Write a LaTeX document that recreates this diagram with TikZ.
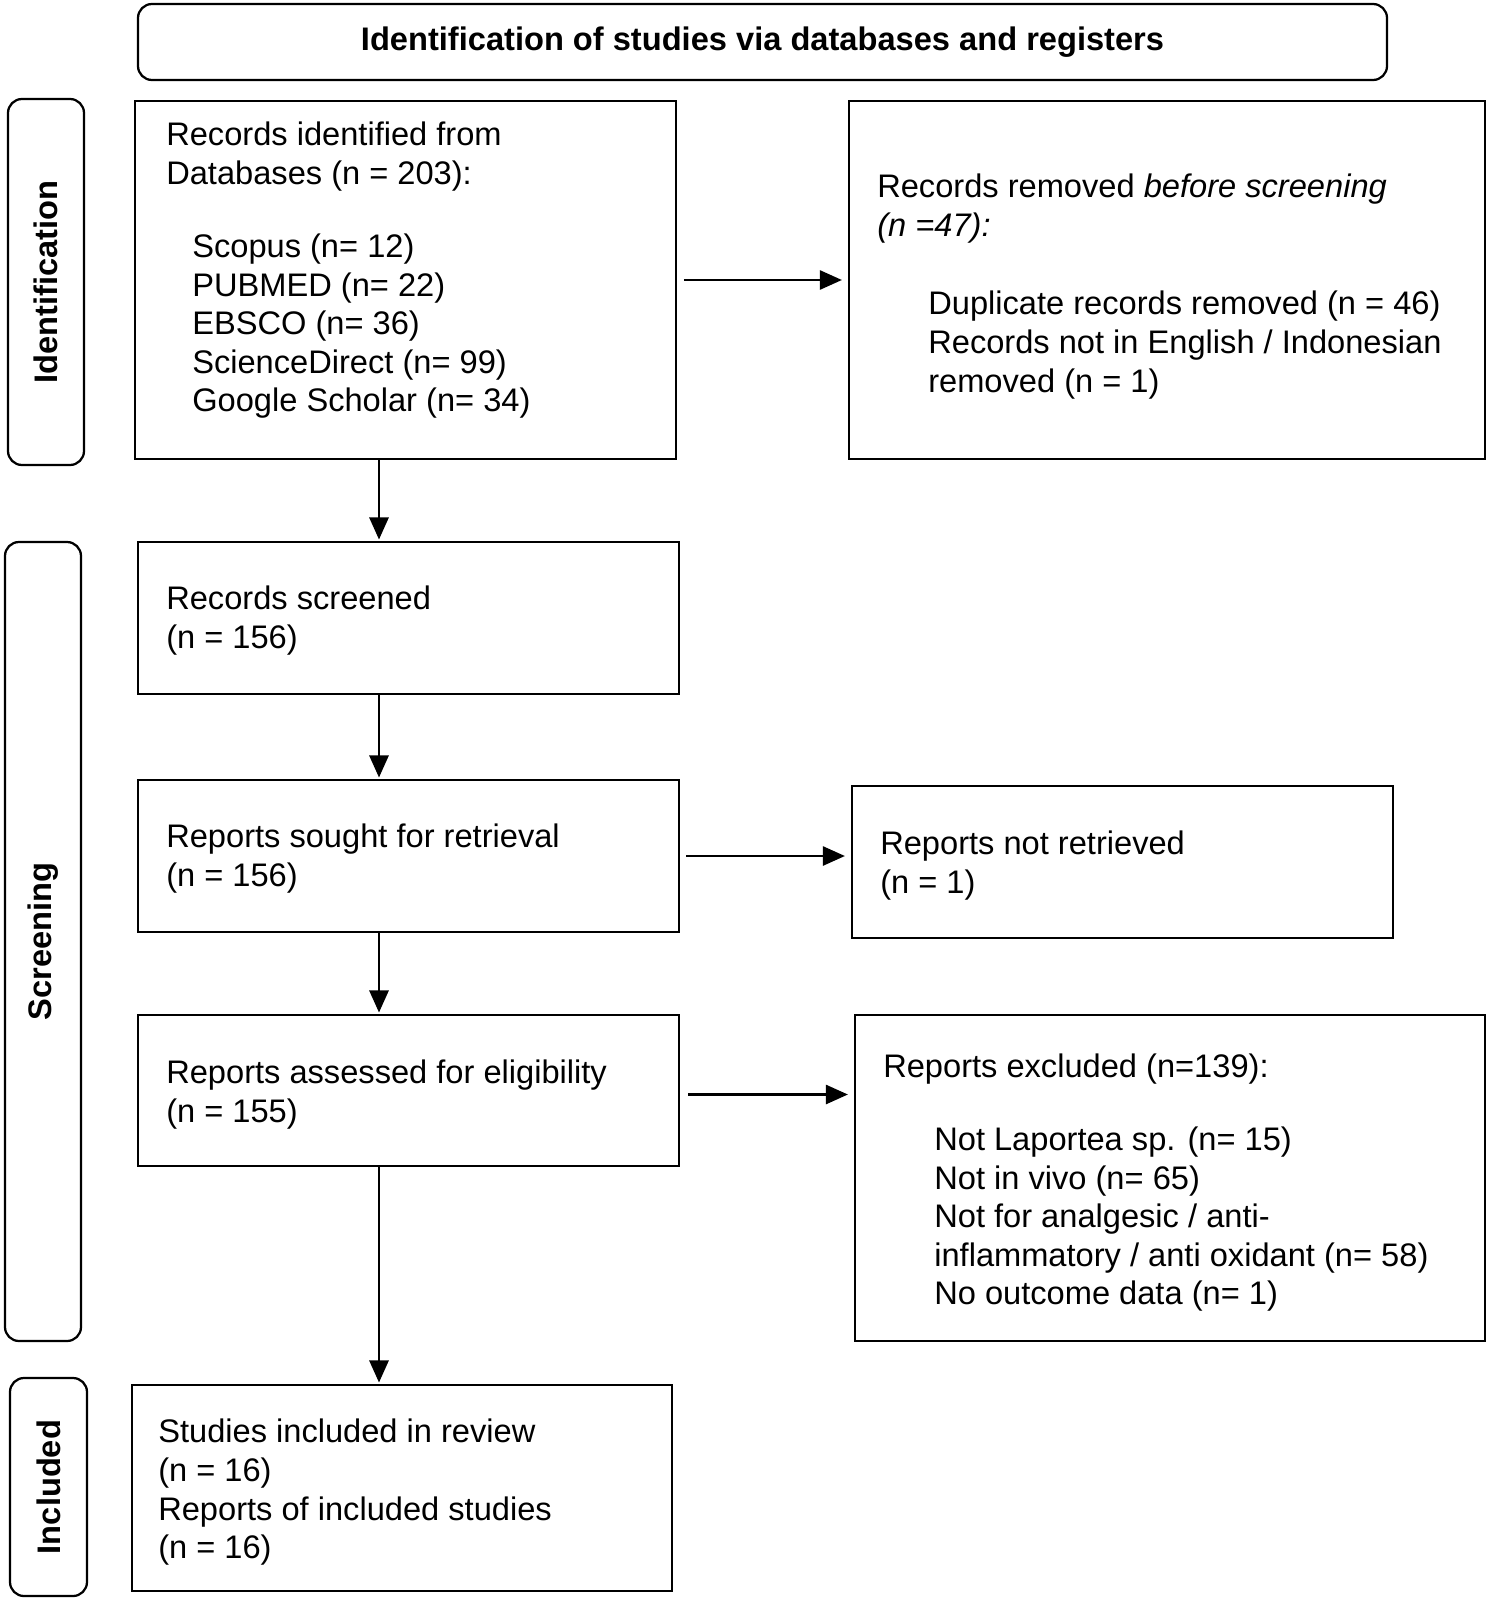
\documentclass[tikz,border=0pt]{standalone}
\usepackage{fontspec}
\setmainfont{Liberation Sans}
\usetikzlibrary{arrows.meta,positioning,fit,calc}
\newcommand{\prismafont}{\fontsize{23.2}{27.4}\selectfont}
\newcommand{\ind}{\hspace*{0.65cm}}
\newcommand{\indd}{\hspace*{1.275cm}}

\begin{document}
\begin{tikzpicture}[x=0.025cm,y=-0.025cm,font=\prismafont,
  box/.style={draw,line width=1.6pt,inner sep=0pt},
  stage/.style={box,rounded corners=0.35cm},
  txt/.style={anchor=north west,align=left,inner sep=0pt,font=\prismafont},
  lab/.style={rotate=90,inner sep=0pt,font=\prismafont\bfseries},
  ar/.style={-{Triangle[length=0.55cm,width=0.48cm]},line width=1.5pt},
]
\useasboundingbox (0,0) rectangle (1489,1602);

% header and stage columns
\node[stage,fit={(138,4) (1387,80)}] (banner) {};
\node[font=\prismafont\bfseries,inner sep=0pt] (bannertxt) at (banner.center)
  {Identification of studies via databases and registers};
\node[stage,fit={(8,99) (84,465)}] (sideid) {};
\node[stage,fit={(5,542) (81,1341)}] (sidescr) {};
\node[stage,fit={(10,1378) (87,1596)}] (sideinc) {};
\node[lab] (idlab) at (sideid.center) {Identification};
\node[lab] (scrlab) at (sidescr.center) {Screening};
\node[lab] (inclab) at (sideinc.center) {Included};

% boxes
\node[box,fit={(135,101) (676,459)}] (idbox) {};
\node[box,fit={(849,101) (1485,459)}] (rembox) {};
\node[box,fit={(138,542) (679,694)}] (scrbox) {};
\node[box,fit={(138,780) (679,932)}] (sougbox) {};
\node[box,fit={(852,786) (1393,938)}] (nretbox) {};
\node[box,fit={(138,1015) (679,1166)}] (assbox) {};
\node[box,fit={(855,1015) (1485,1341)}] (excbox) {};
\node[box,fit={(132,1385) (672,1591)}] (incbox) {};

% texts
\node[txt] (idtxt) at (166,122) {Records identified from\\Databases (n = 203):\\[0.87cm]
  \ind Scopus (n= 12)\\ \ind PUBMED (n= 22)\\ \ind EBSCO (n= 36)\\
  \ind ScienceDirect (n= 99)\\ \ind Google Scholar (n= 34)};
\node[txt] (remtxt) at (877,174) {Records removed \textit{before screening}\\
  \textit{(n =47):}\\[1.0cm]
  \indd Duplicate records removed (n = 46)\\
  \indd Records not in English / Indonesian\\
  \indd removed (n = 1)};
\node[txt] (scrtxt) at (166,586) {Records screened\\(n = 156)};
\node[txt] (sougtxt) at (166,824) {Reports sought for retrieval\\(n = 156)};
\node[txt] (nrettxt) at (880,831) {Reports not retrieved\\(n = 1)};
\node[txt] (asstxt) at (166,1060) {Reports assessed for eligibility\\(n = 155)};
\node[txt] (exctxt) at (883,1054) {Reports excluded (n=139):\\[0.85cm]
  \indd Not Laportea sp. (n= 15)\\ \indd Not in vivo (n= 65)\\
  \indd Not for analgesic / anti-\\
  \indd inflammatory / anti oxidant (n= 58)\\
  \indd No outcome data (n= 1)};
\node[txt] (inctxt) at (158,1419) {Studies included in review\\(n = 16)\\
  Reports of included studies\\(n = 16)};

% connectors
\coordinate (spine) at (379,0);
\draw[ar,shorten >=1pt] (idbox.south -| spine) -- (scrbox.north -| spine);
\draw[ar,shorten >=1pt] (scrbox.south -| spine) -- (sougbox.north -| spine);
\draw[ar,shorten >=1pt] (sougbox.south -| spine) -- (assbox.north -| spine);
\draw[ar,shorten >=1pt] (assbox.south -| spine) -- (incbox.north -| spine);
\draw[ar,shorten <=0.17cm,shorten >=0.15cm] (idbox.east) -- (idbox.east -| rembox.west);
\draw[ar,shorten <=0.15cm,shorten >=0.15cm] (sougbox.east) -- (sougbox.east -| nretbox.west);
\draw[ar,shorten <=0.2cm,shorten >=0.15cm] ([yshift=-0.1cm]assbox.east) -- ([yshift=-0.1cm]assbox.east -| excbox.west);
\end{tikzpicture}
\end{document}
